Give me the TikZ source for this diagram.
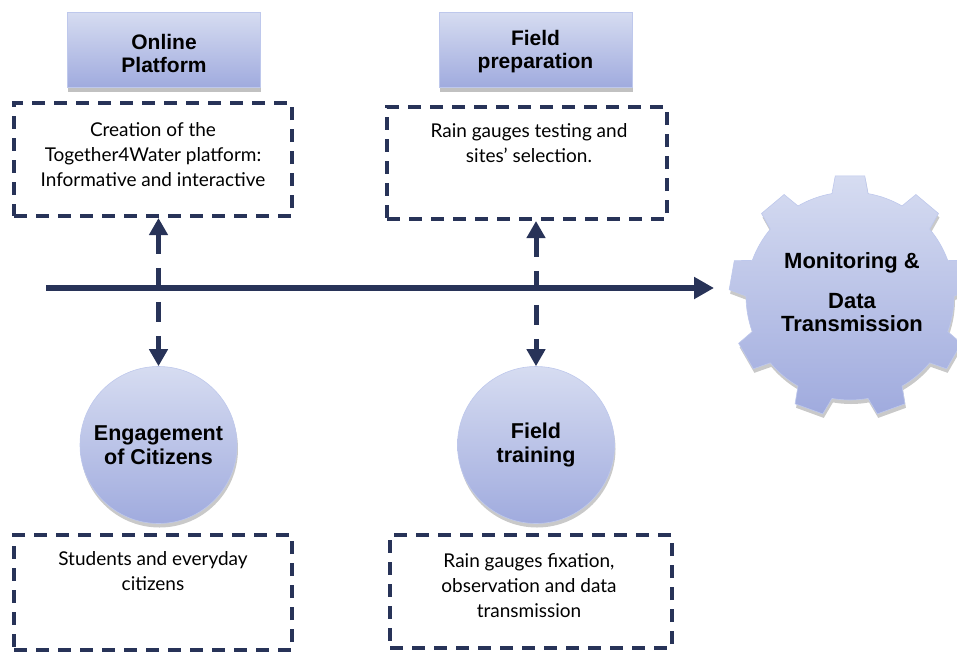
\documentclass[tikz,border=0pt]{standalone}
\usepackage{fontspec}
\setmainfont{Lato}
\newfontfamily\hdrfont{Liberation Sans}
\usetikzlibrary{arrows.meta,shadows}
\definecolor{navy}{RGB}{40,51,88}
\definecolor{lavtop}{RGB}{214,220,241}
\definecolor{lavbot}{RGB}{160,171,222}
\definecolor{lavedge}{RGB}{190,200,236}
\tikzset{
  hdrbox/.style={rectangle, draw=lavedge, line width=0.8pt, top color=lavtop, middle color=lavtop, bottom color=lavbot,
    minimum width=193pt, minimum height=75pt, inner sep=0pt,
    drop shadow={opacity=0.35, shadow xshift=1pt, shadow yshift=-5pt, fill=black!70}},
  hdrtext/.style={align=center, inner sep=0pt, font=\hdrfont\bfseries\fontsize{21}{23}\selectfont},
  roundbox/.style={circle, draw=lavedge, line width=0.6pt, top color=lavtop, middle color=lavtop!85!lavbot, bottom color=lavbot,
    minimum size=157pt, align=center, inner sep=0pt,
    font=\hdrfont\bfseries\fontsize{21.5}{24}\selectfont,
    drop shadow={opacity=0.3, shadow xshift=1pt, shadow yshift=-4pt, fill=black!70}},
  dbox/.style={rectangle, draw=navy, line width=4pt, dash pattern=on 13pt off 9pt, inner sep=0pt},
  bodytext/.style={align=center, inner sep=0pt, font=\fontsize{19}{25}\selectfont, anchor=north},
  flow/.style={draw=navy, line width=6pt, -{Triangle[length=20pt,width=21pt]}},
  link/.style={draw=navy, line width=5pt, dash pattern=on 20pt off 14pt, {Triangle[length=17pt,width=18pt]}-{Triangle[length=17pt,width=18pt]}},
}
\begin{document}
\begin{tikzpicture}[x=1pt,y=-1pt]
\useasboundingbox (0,0) rectangle (957,653);

% header boxes
\node[hdrbox] (h1) at (163.5,49.5) {};
\node[hdrbox] (h2) at (535.5,49.5) {};
\node[hdrtext] (h1t) at (164,53) {Online\\Platform};
\node[hdrtext] (h2t) at (535.5,52) {Field\\preparation};

% dashed boxes
\node[dbox, minimum width=278pt, minimum height=113pt] (d1) at (153,159.5) {};
\node[dbox, minimum width=280pt, minimum height=112pt] (d2) at (527,163) {};
\node[dbox, minimum width=278pt, minimum height=115pt] (d3) at (153,592.5) {};
\node[dbox, minimum width=282pt, minimum height=113pt] (d4) at (531,591.5) {};

\node[bodytext] (t1) at (153,122) {Creation of the\\Together4Water platform:\\Informative and interactive};
\node[bodytext] (t2) at (529,123) {Rain gauges testing and\\sites' selection.};
\node[bodytext] (t3) at (153,551) {Students and everyday\\citizens};
\node[bodytext] (t4) at (529,553) {Rain gauges fixation,\\observation and data\\transmission};

% circles
\node[roundbox] (c1) at (158.5,445) {Engagement\\of Citizens};
\node[roundbox] (c2) at (536,445) {Field\\training};

% gear
\begin{scope}[shift={(850,296)}, x=1pt, y=1pt]
\shade[top color=lavtop, middle color=lavtop!85!lavbot, bottom color=lavbot, draw=lavedge, line width=0.6pt,
  drop shadow={opacity=0.3, shadow xshift=1pt, shadow yshift=-4pt, fill=black!70}]
  (80:104pt) \foreach \c in {90,130,...,410} {
    -- (\c-10:104pt) -- (\c-7:121pt) -- (\c+7:121pt) -- (\c+10:104pt)
    arc[start angle=\c+10, end angle=\c+30, radius=104pt] } -- cycle;
\end{scope}
\node[align=center, inner sep=0pt, font=\hdrfont\bfseries\fontsize{22}{23}\selectfont] (g) at (852,292)
  {Monitoring \&\\[17pt]Data\\Transmission};

% main flow arrow
\coordinate (fs) at (46,288);
\coordinate (fe) at (714,288);
\draw[flow] (fs) -- (fe);

% dashed links
\draw[link] (d1.south -| c1.north) -- (c1.north);
\draw[link] (d2.south -| c2.north) -- (c2.north);
\end{tikzpicture}
\end{document}
